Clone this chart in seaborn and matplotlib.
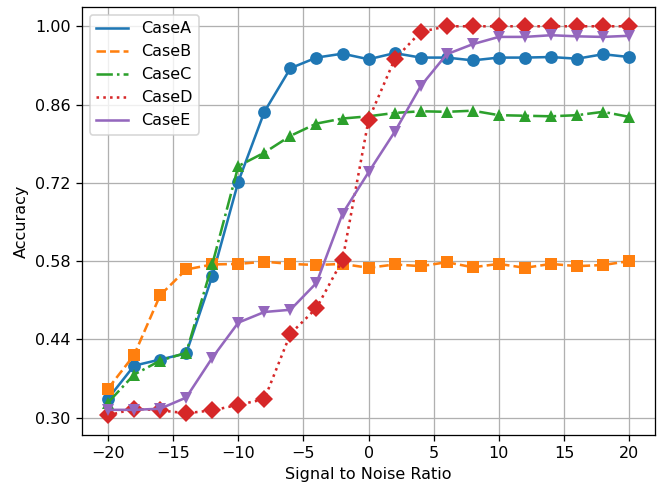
import matplotlib
matplotlib.use("Agg")
import matplotlib.pyplot as plt
import seaborn as sns
import numpy as np
from matplotlib.lines import Line2D

snr = list(range(-20, 21, 2))

case_a = [0.334, 0.393, 0.404, 0.415, 0.553, 0.722, 0.847, 0.925, 0.944, 0.951, 0.941,
          0.952, 0.944, 0.944, 0.939, 0.944, 0.944, 0.945, 0.942, 0.950, 0.945]
case_b = [0.352, 0.412, 0.519, 0.565, 0.574, 0.575, 0.579, 0.575, 0.573, 0.575, 0.568,
          0.574, 0.571, 0.578, 0.569, 0.575, 0.568, 0.575, 0.571, 0.573, 0.580]
case_c = [0.327, 0.377, 0.402, 0.416, 0.574, 0.750, 0.774, 0.804, 0.826, 0.835, 0.839,
          0.845, 0.848, 0.847, 0.849, 0.841, 0.840, 0.839, 0.841, 0.847, 0.838]
case_d = [0.304, 0.316, 0.313, 0.308, 0.313, 0.323, 0.333, 0.450, 0.496, 0.582, 0.833,
          0.941, 0.990, 1.000, 1.000, 1.000, 1.000, 1.000, 1.000, 1.000, 1.000]
case_e = [0.314, 0.314, 0.316, 0.336, 0.407, 0.470, 0.489, 0.493, 0.541, 0.665, 0.739,
          0.811, 0.893, 0.950, 0.968, 0.981, 0.981, 0.984, 0.982, 0.981, 0.983]

names = ["CaseA", "CaseB", "CaseC", "CaseD", "CaseE"]
series = [case_a, case_b, case_c, case_d, case_e]
colors = sns.color_palette("tab10")[:5]
styles = ["-", "--", "-.", ":", "-"]
marks = ["o", "s", "^", "D", "v"]

# the reference looks like a default figure saved at ~115 dpi
dpi = 115
fig, ax = plt.subplots(figsize=(672 / dpi, 487 / dpi), dpi=dpi)
fig.subplots_adjust(left=0.122, right=0.975, bottom=0.107, top=0.986)

handles = []
for name, vals, c, ls, m in zip(names, series, colors, styles, marks):
    sns.lineplot(x=snr, y=vals, ax=ax, color=c, linestyle=ls, marker=m,
                 markersize=8, linewidth=1.6, markeredgewidth=0)
    handles.append(Line2D([], [], color=c, linestyle=ls, linewidth=1.6))

ax.set_yticks(np.linspace(0.3, 1.0, 6))
ax.set_xlabel("Signal to Noise Ratio")
ax.set_ylabel("Accuracy")
ax.grid(True, color="#b0b0b0", linewidth=0.8)
ax.legend(handles, names, loc="upper left")

fig.savefig("out.png", dpi=dpi)
